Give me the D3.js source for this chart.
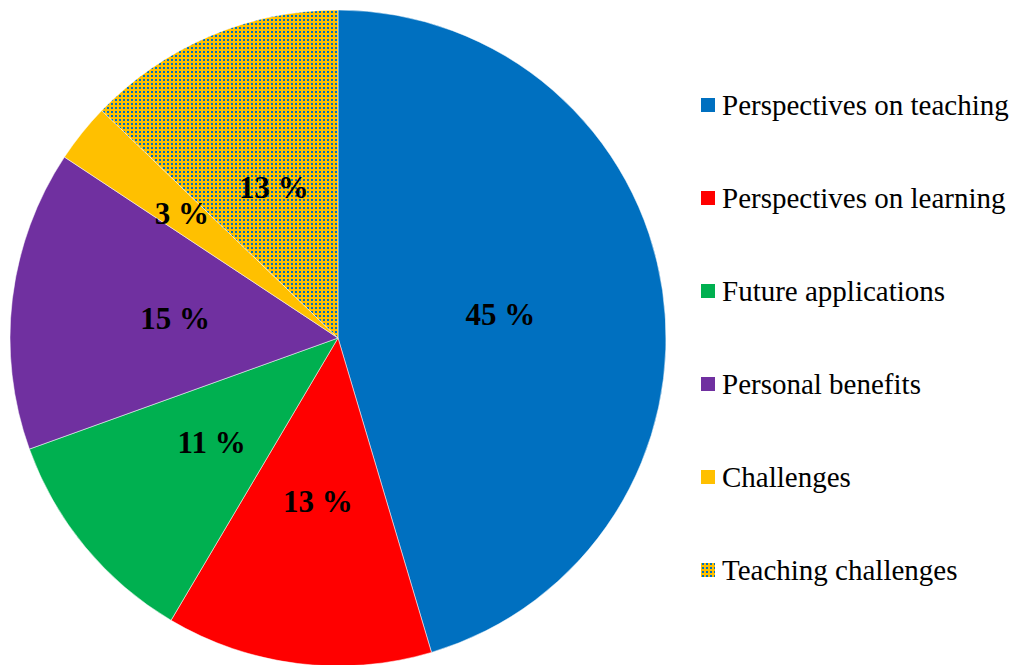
<!DOCTYPE html>
<html><head><meta charset="utf-8">
<script src="https://cdn.jsdelivr.net/npm/d3@7"></script>
<style>body{margin:0;background:#fff}svg{display:block}</style>
</head><body>
<svg id="chart" width="1014" height="665"></svg>
<script>
const categories = ["Perspectives on teaching","Perspectives on learning","Future applications","Personal benefits","Challenges","Teaching challenges"];
const values = [45.4, 13.1, 11.0, 14.8, 2.9, 12.8];
const colors = ["#0070C0","#FF0000","#00B050","#7030A0","#FFC000","pattern"];

const svg = d3.select("#chart");
const defs = svg.append("defs");
const pat = defs.append("pattern").attr("id","dots").attr("patternUnits","userSpaceOnUse")
  .attr("width",4).attr("height",4);
pat.append("rect").attr("width",4).attr("height",4).attr("fill","#FFC000");
pat.append("rect").attr("x",1).attr("y",1).attr("width",2).attr("height",2).attr("fill","#0070C0");
const fillOf = i => colors[i] === "pattern" ? "url(#dots)" : colors[i];
const FONT = "'Liberation Serif','Times New Roman',serif";

const cx = 338, cy = 338, R = 328;
const pie = d3.pie().sort(null).value(d => d);
const arcs = pie(values);
const arc = d3.arc().innerRadius(0).outerRadius(R);
const g = svg.append("g").attr("transform",`translate(${cx},${cy})`);
g.selectAll("path").data(arcs).join("path")
  .attr("d", arc).attr("fill",(d,i)=>fillOf(i)).attr("stroke","#fff").attr("stroke-width",0.5);

g.selectAll("text.lbl").data(arcs).join("text").attr("class","lbl")
  .attr("transform", d => {
    const frac = (d.endAngle - d.startAngle)/(2*Math.PI);
    const r = frac < 0.05 ? R*0.61 : R*0.5;
    const a = (d.startAngle + d.endAngle)/2;
    return `translate(${r*Math.sin(a)},${-r*Math.cos(a)})`;
  })
  .attr("text-anchor","middle").attr("dy","0.35em")
  .style("font-family",FONT)
  .style("font-weight","bold").style("font-size","31px").attr("fill","#000")
  .text(d => Math.round(d.data) + " %");

const legend = svg.append("g");
const ly = d3.scalePoint().domain(categories).range([105, 570]);
const items = legend.selectAll("g").data(categories).join("g")
  .attr("transform", d => `translate(701,${ly(d)})`);
items.append("rect").attr("x",0).attr("y",-7).attr("width",14).attr("height",14)
  .attr("fill",(d,i)=>fillOf(i));
items.append("text").attr("x",21).attr("dy","0.35em")
  .style("font-family",FONT)
  .style("font-size","29px").attr("fill","#000").text(d=>d);
</script>
</body></html>
